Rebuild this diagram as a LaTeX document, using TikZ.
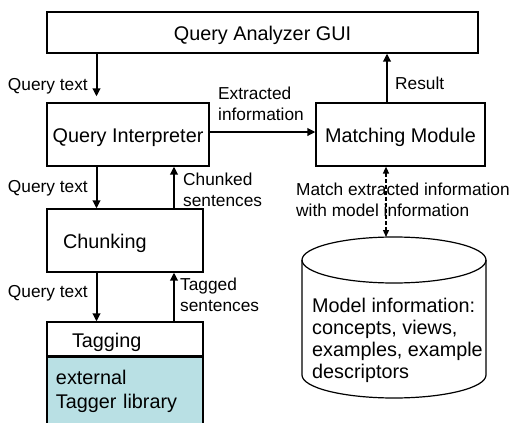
\documentclass[tikz,border=0pt]{standalone}
\usepackage{fontspec}
\setmainfont{Liberation Sans}
\usepackage{xcolor}
\usepackage{tikz}
\usetikzlibrary{arrows.meta,positioning}
\definecolor{taggerblue}{RGB}{185,224,228}

\begin{document}
\begin{tikzpicture}[x=1pt, y=-1pt,
		box/.style={draw, line width=1.2pt, inner sep=0pt, font=\fontsize{19.8}{22}\selectfont, text height=16pt, text depth=0pt},
		lbl/.style={inner sep=0pt, align=left, font=\fontsize{17.3}{20.5}\selectfont},
		flow/.style={line width=2pt, -{Triangle[length=8pt, width=7.5pt]}}]
			\useasboundingbox (0,0) rectangle (512,423);
			\node (gui) [box, minimum width=431, minimum height=41] at (262.5,32.5) {Query Analyzer GUI};
			\node (qi) [box, minimum width=162, minimum height=63] at (128,134.5) {Query Interpreter};
			\node (mm) [box, minimum width=169, minimum height=63] at (400.5,134.5) {Matching Module};
			\node (chunk) [box, minimum height=63, text width=124, inner xsep=16pt, align=left] at (125,240.5) {Chunking};
			\node (tag) [box, minimum height=34, text width=106, inner xsep=25pt, align=left] at (125,339) {Tagging};
			\node (lib) [below=0 of tag, draw, line width=1.2pt, fill=taggerblue, inner ysep=0pt, inner xsep=9pt, text width=138, minimum height=68, align=left, font=\fontsize{19.8}{24}\selectfont] {external\\Tagger library};
			
			% model store
			\draw [line width=1.2pt] (394,260) ellipse [x radius=92pt, y radius=23pt];
			\draw [line width=1.2pt] (302,260) -- (302,375) arc [start angle=180, end angle=360, x radius=92pt, y radius=23pt] -- (486,260);
			\node (db) [anchor=base west, inner sep=0pt, align=left, font=\fontsize{19.8}{22}\selectfont] at (312,378) {Model information:\\concepts, views,\\examples, example\\descriptors};
			\coordinate (dbtop) at (386,237);
			
			\coordinate (xl) at (96.5,0);
			\coordinate (xm) at (174,0);
			\coordinate (xr) at (387,0);
			
			\draw [flow, shorten >=6pt] (gui.south -| xl) -- (qi.north -| xl);
			\draw [flow] (mm.north -| xr) -- (gui.south -| xr);
			\draw [flow] ([yshift=2.5pt]qi.east) -- ([yshift=2.5pt]mm.west);
			\draw [flow] (qi.south -| xl) -- (chunk.north -| xl);
			\draw [flow] (chunk.north -| xm) -- (qi.south -| xm);
			\draw [flow] (chunk.south -| xl) -- (tag.north -| xl);
			\draw [flow] (tag.north -| xm) -- (chunk.south -| xm);
			\draw [line width=1.3pt, dash pattern=on 4pt off 2pt, {Triangle[length=7pt, width=6pt]}-{Triangle[length=7pt, width=6pt]}] (mm.south -| dbtop) -- (dbtop);
			
			\node (qt1) [lbl, anchor=base east] at (88,90) {Query text};
			\node (res) [lbl, anchor=base west] at (395,89) {Result};
			\node (ext) [lbl, anchor=base west] at (218,120) {Extracted\\information};
			\node (qt2) [lbl, anchor=base east] at (88,192) {Query text};
			\node (chk) [lbl, anchor=base west] at (183,206) {Chunked\\sentences};
			\node (qt3) [lbl, anchor=base east] at (88,297) {Query text};
			\node (tgd) [lbl, anchor=base west] at (180,311) {Tagged\\sentences};
			\node (mtc) [lbl, anchor=base west] at (296,216) {Match extracted information\\with model information};
		\end{tikzpicture}
\end{document}
